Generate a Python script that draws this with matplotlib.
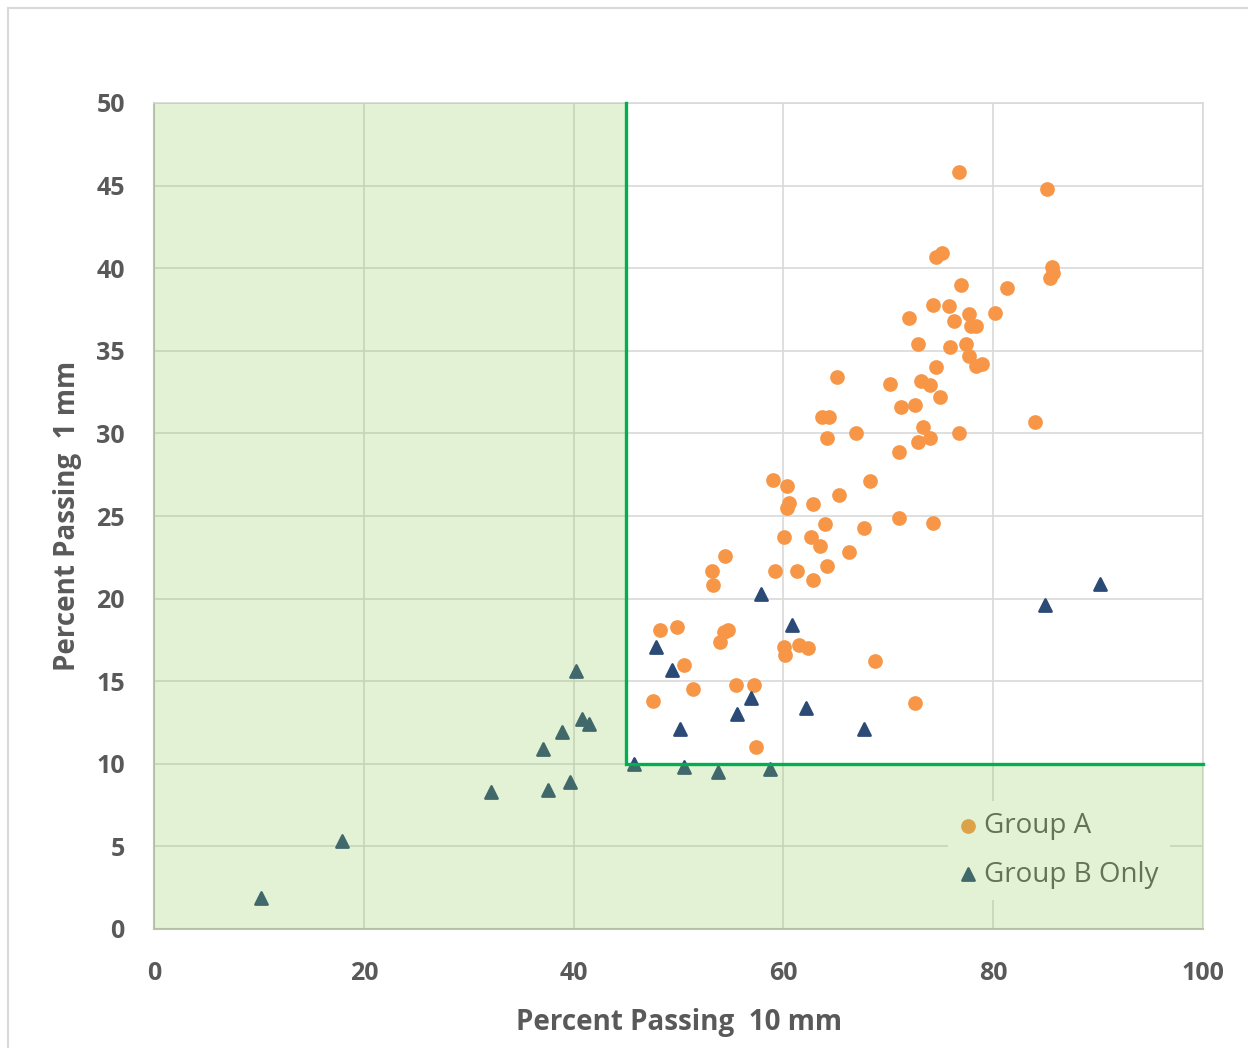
import numpy as np
import matplotlib.pyplot as plt
from matplotlib.patches import Rectangle

# Group A (orange circles)
groupA_x = [76.7, 85.1, 74.5, 75.1, 85.6, 85.4, 85.7, 76.9, 81.3, 74.3,
            75.8, 72.0, 80.2, 77.7, 76.3, 77.9, 78.4, 72.8, 75.9, 77.4,
            77.7, 78.4, 78.9, 74.5, 65.1, 70.2, 73.1, 74.0, 74.9, 71.2,
            72.5, 63.7, 64.3, 84.0, 64.2, 66.9, 73.3, 72.8, 74.0, 76.7,
            71.0, 59.0, 60.3, 68.3, 65.3, 60.5, 60.3, 62.8, 71.0, 74.3,
            64.0, 60.1, 62.6, 63.5, 67.7, 66.3, 54.4, 53.2, 53.3, 59.2,
            61.3, 64.2, 62.8, 48.2, 49.9, 54.7, 54.3, 54.0, 60.1, 60.2,
            61.5, 62.3, 68.7, 50.5, 51.4, 47.6, 55.5, 57.2, 72.5, 57.4]
groupA_y = [45.8, 44.8, 40.7, 40.9, 40.1, 39.4, 39.7, 39.0, 38.8, 37.8,
            37.7, 37.0, 37.3, 37.2, 36.8, 36.5, 36.5, 35.4, 35.2, 35.4,
            34.7, 34.1, 34.2, 34.0, 33.4, 33.0, 33.2, 32.9, 32.2, 31.6,
            31.7, 31.0, 31.0, 30.7, 29.7, 30.0, 30.4, 29.5, 29.7, 30.0,
            28.9, 27.2, 26.8, 27.1, 26.3, 25.8, 25.5, 25.7, 24.9, 24.6,
            24.5, 23.7, 23.7, 23.2, 24.3, 22.8, 22.6, 21.7, 20.8, 21.7,
            21.7, 22.0, 21.1, 18.1, 18.3, 18.1, 18.0, 17.4, 17.1, 16.6,
            17.2, 17.0, 16.2, 16.0, 14.5, 13.8, 14.8, 14.8, 13.7, 11.0]

# Group B only (navy triangles)
groupB_x = [57.9, 84.9, 90.2, 60.8, 47.9, 49.4, 56.9, 55.6, 62.2, 50.1,
            67.7, 45.8, 50.5, 53.8, 58.7, 40.2, 40.8, 41.5, 38.9, 37.1,
            39.7, 37.6, 32.1, 17.9, 10.2]
groupB_y = [20.3, 19.6, 20.9, 18.4, 17.1, 15.7, 14.0, 13.0, 13.4, 12.1,
            12.1, 10.0, 9.8, 9.5, 9.7, 15.6, 12.7, 12.4, 11.9, 10.9,
            8.9, 8.4, 8.3, 5.3, 1.9]

x_limit = 45
y_limit = 10

grey = '#595959'
fnt = 'Open Sans'

fig = plt.figure(figsize=(12.48, 10.48), dpi=100)
fig.patches.append(Rectangle((8/1248, -0.01), 1.02, 1 - 8/1048 + 0.01, transform=fig.transFigure,
                             fill=False, edgecolor='#D9D9D9', linewidth=1.5))
ax = fig.add_axes([154/1248, 119/1048, 1049/1248, 826/1048])

ax.scatter(groupA_x, groupA_y, s=112, color='#F79646', linewidths=0, zorder=3, label='Group A')
ax.scatter(groupB_x, groupB_y, s=78, marker='^', color='#2B4A75', edgecolors='#2B4A75',
           linewidths=1.8, zorder=3, label='Group B Only')

# shaded out-of-spec region drawn over the points
ax.add_patch(Rectangle((0, 0), x_limit, 50, facecolor='#8AC94C', alpha=0.24,
                       edgecolor='none', zorder=10))
ax.add_patch(Rectangle((x_limit, 0), 100 - x_limit, y_limit, facecolor='#8AC94C', alpha=0.24,
                       edgecolor='none', zorder=10))
ax.plot([x_limit, x_limit, 100], [50, y_limit, y_limit], color='#00B050', linewidth=2.4,
        zorder=11, solid_joinstyle='miter', clip_on=False)

ax.set_xlim(0, 100)
ax.set_ylim(0, 50)
ax.set_xticks(np.arange(0, 101, 20))
ax.set_yticks(np.arange(0, 51, 5))
ax.grid(True, color='#D9D9D9', linewidth=1.2)
ax.set_axisbelow(True)
for side in ['top', 'right']:
    ax.spines[side].set_color('#D9D9D9')
    ax.spines[side].set_linewidth(1.2)
for side in ['left', 'bottom']:
    ax.spines[side].set_color('#BFBFBF')
    ax.spines[side].set_linewidth(1.5)
ax.tick_params(axis='y', length=0, pad=21, labelcolor=grey, labelsize=18)
ax.tick_params(axis='x', length=0, pad=23, labelcolor=grey, labelsize=18)
for lab in ax.get_xticklabels() + ax.get_yticklabels():
    lab.set_fontfamily(fnt)
    lab.set_fontweight('bold')
ax.set_xlabel('Percent Passing  10 mm', fontsize=20, fontweight='bold', color=grey,
              fontfamily=fnt, labelpad=16)
ax.set_ylabel('Percent Passing  1 mm', fontsize=20, fontweight='bold', color=grey,
              fontfamily=fnt, labelpad=10)

leg = ax.legend(loc='upper left', bbox_to_anchor=(0.744, 0.172), frameon=True,
                fancybox=False, framealpha=1, edgecolor='none', facecolor='white',
                prop={'family': fnt, 'size': 20}, handlelength=0.6, handletextpad=0.3,
                labelspacing=0.75, borderpad=0.4, markerscale=1.0)
leg.set_zorder(5)
for t in leg.get_texts():
    t.set_color(grey)

fig.savefig('out.png', dpi=100)
